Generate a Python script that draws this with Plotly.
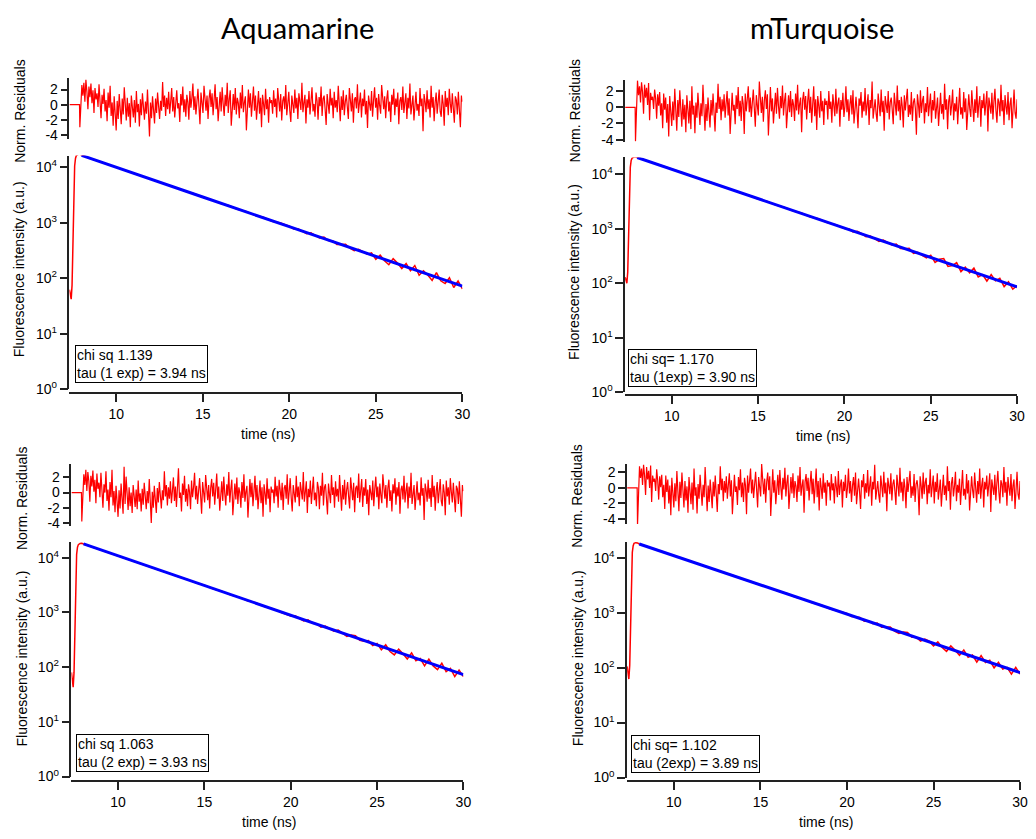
import plotly.graph_objects as go

W, H = 1036, 839

# ---------------- data ----------------
column_titles = ["Aquamarine", "mTurquoise"]
box_texts = [
    "chi sq 1.139<br>tau (1 exp) = 3.94 ns",
    "chi sq= 1.170<br>tau (1exp) = 3.90 ns",
    "chi sq 1.063<br>tau (2 exp) = 3.93 ns",
    "chi sq= 1.102<br>tau (2exp) = 3.89 ns",
]
x_ticks = [10, 15, 20, 25, 30]
res_ticks = [-4, -2, 0, 2]
res_tick_text = ["-4", "-2", "0", "2"]
log_ticks = [1, 10, 100, 1000, 10000]
log_tick_text = ["10<sup>0</sup>", "10<sup>1</sup>", "10<sup>2</sup>", "10<sup>3</sup>", "10<sup>4</sup>"]

t_start, t_res_start, t_end = 7.3, 7.9, 30.0

# normalized residuals (first half, second half)
res_tl_a = [-3.0, 0.8, 2.6, 1.2, 2.9, 0.4, 3.3, 1.7, -0.6, 2.4, 1.0, 2.8, 0.2, 1.9, -1.1, 2.2, 0.7, 1.5, -0.3, 2.7,
            0.9, -1.8, 1.3, 0.1, 2.1, -0.9, 0.6, -2.2, 1.6, -0.4, 2.5, -1.5, 0.3, -2.8, 1.1, -0.7, -3.4, 0.5, -1.9, 1.4,
            -0.2, -2.6, 0.8, -1.3, 2.3, -0.8, -2.1, 0.9, -1.6, 0.2, -3.0, 1.2, -0.5, -1.7, 0.6, -2.4, 1.8, -1.0, 0.1, -2.9,
            0.7, -1.4, 1.5, -0.6, -2.0, 0.4, -1.2, 2.0, -0.9, -4.2, 0.3, -1.8, 1.1, -0.4, -2.5, 0.8, -1.1, 1.6, -0.2, -1.9,
            0.5, -0.8, 3.0, -0.3, 1.2, -1.5, 0.9, -0.6, 1.7, -1.2, 0.4, 2.2, -0.9, 1.0, -1.7, 0.6, 1.9, -0.5, 0.2, -2.3,
            1.4, -0.1, 2.4, -1.0, 0.7, -1.6, 1.3, 0.3, -2.0, 1.8, -0.4, 0.9, 2.8, -0.7, 1.1, -1.3, 0.5, 2.1, -0.2, -2.6,
            1.6, 0.2, -1.1, 2.5, 0.0, -0.8, 1.2, -1.9, 0.8, 2.0, -0.3, 1.5, -1.4, 0.6, 2.7, -0.6, 1.0, -2.2, 0.4, 1.7,
            -0.9, 2.3, 0.1, -1.5, 1.3, -0.2, 2.9, -1.1, 0.7, 1.9, -2.8, 0.5, 1.4, -0.7, 2.2, -1.3, 0.9, 0.2, -1.8, 1.6,
            -0.5, 2.6, -1.0, 0.3, 1.1, -3.4, 0.8, 2.0, -0.4, 1.5, -1.6, 0.6, 2.4, -0.8, 1.2, -2.0, 0.4, 1.8, -1.2, 0.9,
            -3.0, 1.3, 0.1, -1.4, 2.1, -0.6, 0.7, -2.4, 1.0, 0.2]
res_tl_b = [0.6, -1.2, 1.9, -0.3, 0.8, -1.7, 2.2, 0.1, -0.9, 1.4, -2.1, 0.5, 1.1, -0.6, 2.6, -1.4, 0.3, 1.7, -0.8, -2.3,
            1.2, 0.0, -1.1, 2.0, -0.5, 0.9, -1.9, 1.5, 0.4, -0.7, 2.9, -1.0, 0.2, 1.3, -2.5, 0.7, -0.4, 1.8, -1.3, 0.6,
            2.3, -0.9, 0.1, -1.6, 1.6, 0.5, -2.0, 1.0, -0.2, 2.4, -1.5, 0.8, 1.2, -0.6, -2.7, 1.4, 0.3, -1.2, 2.1, -0.1,
            0.9, -1.8, 1.7, -0.4, 0.6, -1.0, 2.5, 0.2, -2.2, 1.1, -0.7, 1.9, -1.4, 0.4, 1.3, -0.3, -1.9, 2.2, 0.0, -0.9,
            1.5, -2.4, 0.7, 1.0, -0.5, 2.7, -1.1, 0.3, 1.6, -1.7, 0.8, -0.2, 2.0, -1.3, 0.5, -3.1, 1.2, 0.1, -0.8, 1.8,
            -1.6, 0.6, 2.3, -0.4, 0.9, -2.0, 1.4, -0.1, -1.2, 2.6, 0.2, -0.6, 1.1, -1.8, 0.7, 1.9, -0.9, 0.4, -2.3, 1.3,
            0.0, 2.1, -1.4, 0.8, -0.3, 1.6, -2.6, 0.5, 1.0, -0.7, 2.4, -1.1, 0.3, 1.5, -1.9, 0.9, -0.5, 2.8, -1.3, 0.2,
            1.2, -2.1, 0.6, 1.7, -0.8, 0.1, -1.5, 2.2, -0.2, 0.8, -3.5, 1.4, 0.4, -1.0, 1.9, -0.6, 0.7, -1.7, 2.5, -0.4,
            1.0, -2.2, 0.3, 1.6, -1.2, 0.5, 2.0, -0.9, -1.6, 1.3, 0.1, -2.8, 1.8, -0.3, 0.9, -1.4, 2.1, 0.2, -1.1, 1.5,
            -0.5, -2.4, 1.1, 0.6, -1.3, 1.7, -0.7, -3.0, 1.2, 0.4]
res_tr_a = [-4.2, 1.0, 3.3, 1.5, 2.6, 0.6, 3.1, 1.9, -0.8, 2.8, 1.2, 2.4, 0.3, 3.0, -1.6, 1.8, 0.9, 1.3, -0.2, 2.2,
            1.1, -1.4, 1.6, 0.2, 1.9, -1.0, 0.5, -2.6, 1.7, -0.3, 1.2, -1.9, 0.4, -3.6, 1.4, -0.5, -2.3, 0.7, -1.6, 2.3,
            -0.1, -2.9, 0.9, -1.2, 2.1, -0.7, -2.4, 1.0, -1.5, 0.3, -3.1, 1.5, -0.4, -2.0, 0.8, -2.7, 2.6, -0.9, 0.2, -3.2,
            0.6, -1.3, 1.8, -0.5, -2.2, 0.5, -1.1, 2.8, -0.8, -2.9, 0.4, -1.7, 1.2, -0.3, -2.5, 0.9, -1.0, 1.7, -0.1, -3.0,
            0.6, -0.7, 2.9, -0.2, 1.3, -1.6, 1.0, -0.5, 1.6, -1.3, 0.5, 2.0, -1.0, 1.1, -3.3, 0.7, 1.8, -0.4, 0.3, -2.1,
            1.5, -0.2, 2.5, -1.1, 0.8, -1.7, 1.4, 0.4, -3.3, 1.7, -0.5, 1.0, 2.6, -0.6, 1.2, -1.2, 0.6, 2.2, -0.1, -2.4,
            1.5, 0.3, -1.0, 3.2, 0.1, -0.7, 1.3, -1.8, 0.9, 2.1, -0.2, 1.6, -3.5, 0.7, 2.5, -0.5, 1.1, -2.0, 0.5, 1.8,
            -0.8, 2.4, 0.2, -1.4, 1.4, -0.1, 2.7, -1.0, 0.8, 1.8, -2.6, 0.6, 1.5, -0.6, 2.0, -1.2, 1.0, 0.3, -1.7, 1.7,
            -0.4, 2.8, -0.9, 0.4, 1.2, -3.1, 0.9, 1.9, -0.3, 1.4, -1.5, 0.7, 2.3, -0.7, 1.3, -1.9, 0.5, 2.6, -1.1, 1.0,
            -2.8, 1.4, 0.2, -1.3, 2.0, -0.5, 0.8, -2.2, 1.1, 0.3]
res_tr_b = [0.8, -1.5, 2.0, -0.2, 0.7, -1.9, 1.6, 0.3, -1.1, 2.3, -0.8, 0.5, 1.2, -2.4, 0.9, -0.3, 1.8, -1.2, 0.1, 2.6,
            -0.6, 1.0, -1.7, 0.4, 1.5, -0.9, 2.1, -2.0, 0.6, 1.3, -0.4, -2.6, 1.1, 0.2, 1.9, -1.3, 0.7, -0.5, 2.4, -1.0,
            0.3, 1.6, -2.2, 0.9, -0.1, 3.2, -1.4, 0.5, 1.0, -0.8, -1.8, 1.7, 0.0, -1.1, 2.2, -0.6, 0.8, -2.9, 1.4, 0.4,
            -0.7, 2.0, -1.5, 0.6, 1.2, -0.3, -2.1, 1.8, 0.2, -1.0, 2.7, -0.5, 0.9, -1.6, 1.3, 0.1, -2.5, 1.5, -0.4, 0.7,
            2.3, -1.2, 0.3, -0.9, 1.9, -1.7, 0.6, 1.1, -0.2, -3.4, 1.6, 0.4, -1.3, 2.1, -0.7, 0.8, 1.4, -2.0, 0.5, -0.6,
            2.5, -1.1, 0.2, 1.7, -1.9, 0.9, -0.4, 2.0, -1.4, 0.6, 1.2, -2.3, 0.1, 1.8, -0.8, 0.4, -1.5, 2.9, -0.3, 1.0,
            -2.7, 0.7, 1.5, -1.0, 0.3, 2.2, -1.6, 0.5, -0.5, 1.3, -2.1, 0.8, 2.4, -0.9, 0.0, -1.4, 1.9, -0.6, 1.1, -2.8,
            0.6, 1.6, -0.2, -1.2, 2.1, 0.3, -1.8, 1.0, -0.7, 2.6, -1.3, 0.4, 1.4, -2.4, 0.9, -0.1, 1.7, -1.0, 0.5, 2.0,
            -3.0, 1.2, 0.2, -0.8, 1.8, -1.5, 0.7, 2.3, -0.4, -1.9, 1.1, 0.6, -1.1, 2.8, -0.5, 0.9, -2.2, 1.5, 0.1, -0.9,
            1.9, -1.6, 0.4, 1.2, -2.6, 0.8, 2.2, -0.7, -1.4, 1.0]
res_bl_a = [-3.8, 0.6, 2.4, 1.0, 3.0, 0.2, 2.7, 1.5, -1.2, 2.2, 0.8, 2.9, 0.1, 1.7, -1.4, 2.5, 0.5, 1.3, -0.6, 2.6,
            0.7, -2.0, 1.1, 0.0, 2.8, -1.1, 0.4, -2.4, 1.4, -0.6, 3.0, -1.7, 0.2, -2.6, 0.9, -0.9, -3.2, 0.3, -2.1, 1.2,
            -0.4, -2.8, 3.4, -1.5, 2.1, -1.0, -2.3, 0.7, -1.8, 0.0, -2.7, 1.0, -0.7, -1.9, 0.4, -2.2, 1.6, -1.2, -0.1, -2.5,
            0.5, -1.6, 1.3, -0.8, -2.2, 0.2, -1.4, 1.8, -1.1, -4.0, 0.1, -2.0, 0.9, -0.6, -2.7, 0.6, -1.3, 1.4, -0.4, -2.1,
            0.3, -1.0, 2.8, -0.5, 1.0, -1.7, 0.7, -0.8, 1.5, -1.4, 0.2, 2.0, -1.1, 0.8, -1.9, 0.4, 3.2, -0.7, 0.0, -2.5,
            1.2, -0.3, 2.2, -1.2, 0.5, -1.8, 1.1, 0.1, -2.2, 1.6, -0.6, 0.7, 2.6, -0.9, 0.9, -1.5, 0.3, 1.9, -0.4, -2.8,
            1.4, 0.0, -1.3, 2.3, -0.2, -1.0, 1.0, -2.1, 0.6, 1.8, -0.5, 1.3, -1.6, 0.4, 2.5, -0.8, 0.8, -2.4, 0.2, 1.5,
            -1.1, 2.1, -0.1, -1.7, 1.1, -0.4, 2.7, -1.3, 0.5, 1.7, -3.0, 0.3, 1.2, -0.9, 2.0, -1.5, 0.7, 0.0, -2.0, 1.4,
            -0.7, 2.4, -1.2, 0.1, 0.9, -3.3, 0.6, 1.8, -0.6, 1.3, -1.8, 0.4, 2.2, -1.0, 1.0, -2.2, 0.2, 1.6, -1.4, 0.7,
            -3.2, 1.1, -0.1, -1.6, 1.9, -0.8, 0.5, -2.6, 0.8, 0.0]
res_bl_b = [0.4, -1.4, 2.1, -0.5, 0.9, -2.0, 1.7, 0.0, -1.0, 1.3, -2.3, 0.6, 1.0, -0.8, 2.4, -1.6, 0.2, 1.9, -0.7, -2.5,
            1.0, -0.2, -1.3, 2.2, -0.6, 0.8, -1.8, 1.4, 0.3, -0.9, 2.7, -1.2, 0.1, 1.5, -2.7, 0.5, -0.6, 1.6, -1.5, 0.4,
            2.1, -1.0, 0.0, -1.8, 1.4, 0.6, -2.2, 0.9, -0.4, 2.6, -1.7, 0.7, 1.1, -0.8, -2.9, 1.2, 0.2, -1.4, 2.3, -0.3,
            0.7, -2.0, 1.5, -0.5, 0.5, -1.2, 2.3, 0.1, -2.4, 1.0, -0.9, 1.7, -1.6, 0.3, 1.4, -0.5, -2.1, 2.0, -0.1, -1.0,
            1.3, -2.6, 0.6, 0.9, -0.7, 2.5, -1.3, 0.2, 1.8, -1.9, 0.7, -0.4, 1.8, -1.5, 0.4, -3.0, 1.0, 0.0, -1.0, 1.6,
            -1.8, 0.5, 2.1, -0.6, 0.8, -2.2, 1.2, -0.3, -1.4, 2.4, 0.1, -0.8, 1.0, -2.0, 0.6, 1.7, -1.1, 0.3, -2.5, 1.1,
            -0.1, 1.9, -1.6, 0.7, -0.5, 1.4, -2.8, 0.4, 0.9, -0.9, 2.2, -1.3, 0.2, 1.3, -2.1, 0.8, -0.7, 2.6, -1.5, 0.1,
            1.0, -2.3, 0.5, 1.5, -1.0, 0.0, -1.7, 2.0, -0.4, 0.6, -3.6, 1.2, 0.3, -1.2, 1.7, -0.8, 0.6, -1.9, 2.3, -0.6,
            0.9, -2.4, 0.2, 1.4, -1.4, 0.4, 1.8, -1.1, -1.8, 1.1, 0.0, -3.0, 1.6, -0.5, 0.7, -1.6, 1.9, 0.1, -1.3, 1.3,
            -0.7, -2.6, 0.9, 0.5, -1.5, 1.5, -0.9, -3.2, 1.0, 0.2]
res_br_a = [-4.8, 0.9, 2.8, 1.3, 2.5, 0.4, 3.0, 1.6, -0.9, 2.7, 1.1, 2.2, 0.0, 2.9, -1.8, 1.6, 0.8, 1.2, -0.4, 2.4,
            1.0, -1.5, 1.5, 0.1, 1.7, -1.2, 0.4, -2.7, 1.6, -0.5, 1.1, -2.0, 0.3, -3.5, 1.3, -0.6, -2.5, 0.6, -1.7, 2.2,
            -0.2, -3.0, 0.8, -1.3, 2.0, -0.8, -2.5, 0.9, -1.6, 0.2, -3.2, 1.4, -0.5, -2.1, 0.7, -2.8, 2.5, -1.0, 0.1, -3.3,
            0.5, -1.4, 1.7, -0.6, -2.3, 0.4, -1.2, 2.7, -0.9, -3.0, 0.3, -1.8, 1.1, -0.4, -2.6, 0.8, -1.1, 1.6, -0.2, -3.1,
            0.5, -0.8, 2.8, -0.3, 1.2, -1.7, 0.9, -0.6, 1.5, -1.4, 0.4, 1.9, -1.1, 1.0, -3.4, 0.6, 1.7, -0.5, 0.2, -2.2,
            1.4, -0.3, 2.4, -1.2, 0.7, -1.8, 1.3, 0.3, -3.4, 1.6, -0.6, 0.9, 2.5, -0.7, 1.1, -1.3, 0.5, 2.1, -0.2, -2.5,
            1.4, 0.2, -1.1, 3.1, 0.0, -0.8, 1.2, -1.9, 0.8, 2.0, -0.3, 1.5, -3.6, 0.6, 2.4, -0.6, 1.0, -2.1, 0.4, 1.7,
            -0.9, 2.3, 0.1, -1.5, 1.3, -0.2, 2.6, -1.1, 0.7, 1.7, -2.7, 0.5, 1.4, -0.7, 1.9, -1.3, 0.9, 0.2, -1.8, 1.6,
            -0.5, 2.7, -1.0, 0.3, 1.1, -3.2, 0.8, 1.8, -0.4, 1.3, -1.6, 0.6, 2.2, -0.8, 1.2, -2.0, 0.4, 2.5, -1.2, 0.9,
            -2.9, 1.3, 0.1, -1.4, 1.9, -0.6, 0.7, -2.3, 1.0, 0.2]
res_br_b = [0.7, -1.6, 1.8, -0.3, 0.6, -2.0, 1.5, 0.2, -1.2, 2.2, -0.9, 0.4, 1.1, -2.5, 0.8, -0.4, 1.7, -1.3, 0.0, 2.5,
            -0.7, 0.9, -1.8, 0.3, 1.4, -1.0, 2.0, -2.1, 0.5, 1.2, -0.5, -2.7, 1.0, 0.1, 1.8, -1.4, 0.6, -0.6, 2.3, -1.1,
            0.2, 1.5, -2.3, 0.8, -0.2, 3.0, -1.5, 0.4, 0.9, -0.9, -1.9, 1.6, -0.1, -1.2, 2.1, -0.7, 0.7, -3.0, 1.3, 0.3,
            -0.8, 1.9, -1.6, 0.5, 1.1, -0.4, -2.2, 1.7, 0.1, -1.1, 2.6, -0.6, 0.8, -1.7, 1.2, 0.0, -2.6, 1.4, -0.5, 0.6,
            2.2, -1.3, 0.2, -1.0, 1.8, -1.8, 0.5, 1.0, -0.3, -3.5, 1.5, 0.3, -1.4, 2.0, -0.8, 0.7, 1.3, -2.1, 0.4, -0.7,
            2.4, -1.2, 0.1, 1.6, -2.0, 0.8, -0.5, 1.9, -1.5, 0.5, 1.1, -2.4, 0.0, 1.7, -0.9, 0.3, -1.6, 2.8, -0.4, 0.9,
            -2.8, 0.6, 1.4, -1.1, 0.2, 2.1, -1.7, 0.4, -0.6, 1.2, -2.2, 0.7, 2.3, -1.0, -0.1, -1.5, 1.8, -0.7, 1.0, -2.9,
            0.5, 1.5, -0.3, -1.3, 2.0, 0.2, -1.9, 0.9, -0.8, 2.5, -1.4, 0.3, 1.3, -2.5, 0.8, -0.2, 1.6, -1.1, 0.4, 1.9,
            -3.1, 1.1, 0.1, -0.9, 1.7, -1.6, 0.6, 2.2, -0.5, -2.0, 1.0, 0.5, -1.2, 2.7, -0.6, 0.8, -2.3, 1.4, 0.0, -1.0,
            1.8, -1.7, 0.3, 1.1, -2.7, 0.7, 2.1, -0.8, -1.5, 0.9]

# measured decay (red): rising edge, tail every 0.5 ns to 19.5 ns, then every 0.25 ns to 30 ns
rise_t = [7.30, 7.35, 7.40, 7.45, 7.50, 7.55, 7.60, 7.65, 7.70, 7.80, 7.90, 8.00]
rise_tl = [62, 50, 42, 75, 700, 4500, 10500, 14500, 16200, 17000, 17100, 16600]
rise_tr = [130, 110, 100, 160, 1200, 6500, 13500, 18000, 19800, 20800, 21000, 20400]
rise_bl = [80, 60, 43, 80, 700, 4800, 11500, 15500, 17300, 18200, 18300, 17800]
rise_br = [105, 80, 62, 110, 900, 5500, 12500, 16500, 18300, 18800, 18600, 17800]

mid_tl = [14250, 12800, 11180, 9900, 8760, 7730, 6880, 6040, 5390, 4710, 4230, 3680, 3310, 2870, 2600, 2240,
          2040, 1750, 1600, 1360, 1260, 1060, 985]
mid_tr = [18100, 15850, 14150, 12350, 11020, 9610, 8600, 7500, 6720, 5830, 5250, 4550, 4100, 3530, 3200, 2750,
          2500, 2150, 1950, 1670, 1530, 1300, 1190]
mid_bl = [15650, 13900, 12150, 10850, 9480, 8450, 7380, 6580, 5740, 5130, 4460, 4010, 3470, 3120, 2700, 2440,
          2090, 1900, 1630, 1490, 1265, 1160, 980]
mid_br = [15800, 13850, 12380, 10820, 9690, 8470, 7590, 6620, 5950, 5180, 4660, 4050, 3660, 3170, 2860, 2480,
          2250, 1935, 1760, 1510, 1380, 1180, 1085]

end_tl = [865, 773, 780, 698, 631, 655, 592, 529, 550, 478, 473, 405, 405, 408, 348, 313, 333, 304, 270, 285,
          218, 261, 206, 175, 225, 187, 149, 184, 137, 169, 113, 136, 114, 91, 126, 90, 80, 102, 68, 89, 64]
end_tr = [1012, 1000, 876, 900, 813, 719, 739, 661, 590, 625, 566, 505, 524, 437, 432, 438, 355, 370, 327, 292,
          328, 241, 276, 284, 204, 211, 240, 164, 197, 156, 190, 131, 144, 110, 145, 111, 124, 87, 107, 78, 90]
end_bl = [858, 865, 781, 697, 730, 635, 620, 537, 564, 509, 455, 476, 414, 365, 384, 375, 309, 297, 304, 248,
          271, 207, 255, 193, 167, 213, 176, 141, 182, 131, 144, 105, 140, 105, 90, 118, 83, 95, 67, 88, 67]
end_br = [968, 849, 840, 821, 699, 706, 631, 649, 541, 542, 546, 460, 419, 445, 435, 356, 357, 305, 331, 303,
          248, 293, 233, 198, 248, 207, 168, 209, 154, 169, 126, 166, 124, 136, 99, 125, 94, 101, 76, 101, 76]

# fitted curve (blue), read at these times
fit_t = [8, 10, 15, 20, 25, 30]
fit_tl = [16300, 9900, 2900, 848, 248, 72]
fit_tr = [20400, 12420, 3580, 1033, 298, 86]
fit_bl = [17800, 10790, 3090, 885, 253, 73]
fit_br = [17800, 10890, 3200, 940, 276, 81]

# ---------------- geometry (pixels) ----------------
panels = [
    dict(res=res_tl_a + res_tl_b, rise=rise_tl, mid=mid_tl, end=end_tl, fit=fit_tl, box=box_texts[0],
         x0=70, x1=466, r_top=79, r_bot=140, r_rng=[-4.5, 3.5],
         d_top=157, d_bot=393, d_max=4.21, xa_y=397, box_xy=(76, 348),
         lab_x=20, res_lab_y=112, dec_lab_y=272, time_y=438),
    dict(res=res_tr_a + res_tr_b, rise=rise_tr, mid=mid_tr, end=end_tr, fit=fit_tr, box=box_texts[1],
         x0=630, x1=1025, r_top=81, r_bot=143, r_rng=[-4.25, 3.35],
         d_top=159, d_bot=396, d_max=4.31, xa_y=399, box_xy=(633, 352),
         lab_x=579, res_lab_y=112, dec_lab_y=275, time_y=440),
    dict(res=res_bl_a + res_bl_b, rise=rise_bl, mid=mid_bl, end=end_bl, fit=fit_bl, box=box_texts[2],
         x0=72, x1=467, r_top=468, r_bot=531, r_rng=[-4.4, 3.83],
         d_top=547, d_bot=784, d_max=4.29, xa_y=789, box_xy=(77, 741),
         lab_x=22, res_lab_y=503, dec_lab_y=665, time_y=830),
    dict(res=res_br_a + res_br_b, rise=rise_br, mid=mid_br, end=end_br, fit=fit_br, box=box_texts[3],
         x0=632, x1=1028, r_top=468, r_bot=529, r_rng=[-4.64, 3.15],
         d_top=547, d_bot=785, d_max=4.29, xa_y=789, box_xy=(636, 742),
         lab_x=582, res_lab_y=501, dec_lab_y=665, time_y=830),
]

FONT = "Liberation Sans, Arial, sans-serif"
AX = "#222222"
fig = go.Figure()
layout = dict(width=W, height=H, margin=dict(l=0, r=0, t=0, b=0),
              paper_bgcolor="white", plot_bgcolor="white", showlegend=False,
              font=dict(family=FONT, color="black", size=13))
annotations = []


def px(x):
    return x / W


def py(y):
    return 1 - y / H


for i, p in enumerate(panels):
    rx = ry = 2 * i + 1
    dx = dy = 2 * i + 2
    xdom = [px(p["x0"]), px(p["x1"])]

    # residuals on the channel-time grid
    n = len(p["res"])
    step = (t_end - t_res_start) / (n - 1)
    rt = [t_start, t_res_start - 0.02] + [t_res_start + k * step for k in range(n)]
    rv = [0, 0] + p["res"]
    fig.add_trace(go.Scatter(x=rt, y=rv, mode="lines", line=dict(color="#ff0000", width=1.2),
                             xaxis=f"x{rx}", yaxis=f"y{ry}", hoverinfo="skip"))

    # decay data
    mid_t = [8.5 + 0.5 * k for k in range(len(p["mid"]))]
    end_t = [20.0 + 0.25 * k for k in range(len(p["end"]))]
    fig.add_trace(go.Scatter(x=rise_t + mid_t + end_t, y=p["rise"] + p["mid"] + p["end"], mode="lines",
                             line=dict(color="#ff0000", width=1.5),
                             xaxis=f"x{dx}", yaxis=f"y{dy}", hoverinfo="skip"))
    fig.add_trace(go.Scatter(x=fit_t, y=p["fit"], mode="lines", line=dict(color="#0000ff", width=3),
                             xaxis=f"x{dx}", yaxis=f"y{dy}", hoverinfo="skip"))

    layout[f"xaxis{rx}"] = dict(domain=xdom, range=[t_start, t_end], visible=False,
                                anchor=f"y{ry}")
    layout[f"yaxis{ry}"] = dict(domain=[py(p["r_bot"]), py(p["r_top"])], range=p["r_rng"],
                                anchor=f"x{rx}", tickvals=res_ticks, ticktext=res_tick_text,
                                ticks="outside", ticklen=7, tickwidth=1.5, tickcolor=AX,
                                showline=True, linecolor=AX, linewidth=1.5,
                                showgrid=False, zeroline=False,
                                tickfont=dict(size=14, family=FONT, color="black"))
    layout[f"xaxis{dx}"] = dict(domain=xdom, range=[t_start, t_end], anchor="free",
                                position=py(p["xa_y"]), tickvals=x_ticks,
                                ticks="outside", ticklen=8, tickwidth=1.5, tickcolor=AX,
                                showline=True, linecolor=AX, linewidth=1.5,
                                showgrid=False, zeroline=False,
                                tickfont=dict(size=14, family=FONT, color="black"))
    layout[f"yaxis{dy}"] = dict(domain=[py(p["d_bot"]), py(p["d_top"])], type="log",
                                range=[0, p["d_max"]], anchor=f"x{dx}",
                                tickvals=log_ticks, ticktext=log_tick_text,
                                ticks="outside", ticklen=8, tickwidth=1.5, tickcolor=AX,
                                showline=True, linecolor=AX, linewidth=1.5,
                                showgrid=False, zeroline=False,
                                tickfont=dict(size=14, family=FONT, color="black"))

    annotations += [
        dict(text="Norm. Residuals", x=px(p["lab_x"]), y=py(p["res_lab_y"]), xref="paper", yref="paper",
             textangle=-90, showarrow=False, font=dict(size=14, family=FONT, color="black"),
             xanchor="center", yanchor="middle"),
        dict(text="Fluorescence intensity (a.u.)", x=px(p["lab_x"]), y=py(p["dec_lab_y"]),
             xref="paper", yref="paper", textangle=-90, showarrow=False,
             font=dict(size=14, family=FONT, color="black"), xanchor="center", yanchor="middle"),
        dict(text="time (ns)", x=px((p["x0"] + p["x1"]) / 2 + 2), y=py(p["time_y"]), xref="paper",
             yref="paper", showarrow=False, font=dict(size=14, family=FONT, color="black"),
             xanchor="center", yanchor="middle"),
        dict(text=p["box"], x=px(p["box_xy"][0]), y=py(p["box_xy"][1]), xref="paper", yref="paper",
             showarrow=False, align="left", xanchor="left", yanchor="top",
             font=dict(size=14, family=FONT, color="black"), bgcolor="white",
             bordercolor="black", borderwidth=1, borderpad=1),
    ]

for title, cx in zip(column_titles, [300, 828]):
    annotations.append(dict(text=title, x=px(cx), y=py(28), xref="paper", yref="paper", showarrow=False,
                            font=dict(size=29, family="Lato, sans-serif", color="black"),
                            xanchor="center", yanchor="middle"))
layout["annotations"] = annotations
fig.update_layout(**layout)
fig.write_html("out.html", config={"displayModeBar": False},
               post_script="document.body.style.margin='0px';document.body.style.overflow='hidden';")
